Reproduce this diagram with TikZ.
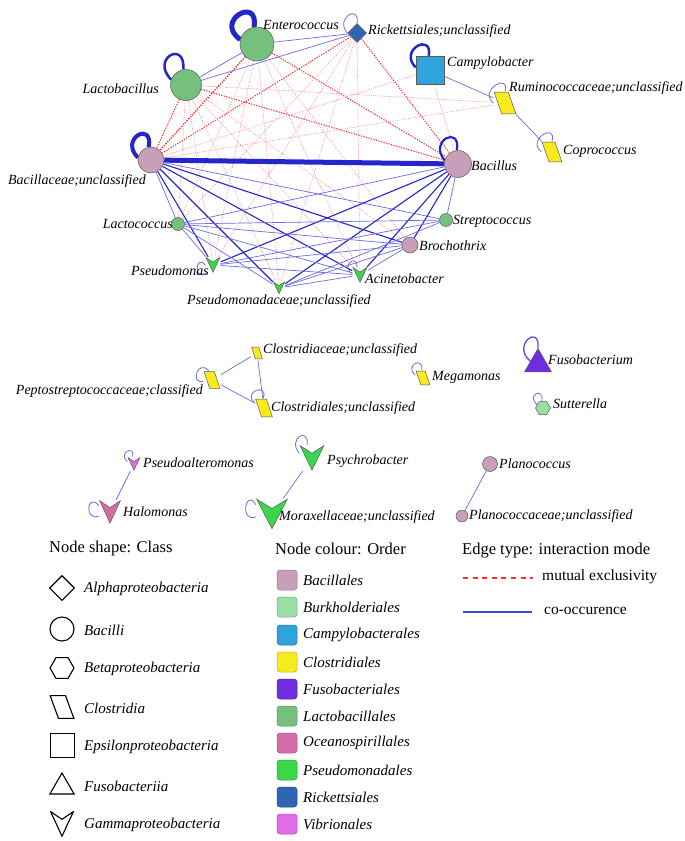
\documentclass[tikz,border=0pt]{standalone}
\usepackage{fontspec}
\setmainfont{Liberation Serif}
\usetikzlibrary{shapes.geometric, positioning, backgrounds, calc}
% node colour = order
\definecolor{ordBacillales}{HTML}{C89FB8}
\definecolor{ordBurkholderiales}{HTML}{9BDFA6}
\definecolor{ordCampylobacterales}{HTML}{2EA3DC}
\definecolor{ordClostridiales}{HTML}{F7EB1E}
\definecolor{ordFusobacteriales}{HTML}{6E2EE0}
\definecolor{ordLactobacillales}{HTML}{76C07E}
\definecolor{ordOceanospirillales}{HTML}{D46DA5}
\definecolor{ordPseudomonadales}{HTML}{3AD64C}
\definecolor{ordRickettsiales}{HTML}{2E66B2}
\definecolor{ordVibrionales}{HTML}{E06CE8}
% edge colours
\definecolor{coBlue}{HTML}{2525CC}
\definecolor{coLight}{HTML}{6C6CE6}
\definecolor{mxRed}{HTML}{FF2A2A}
\definecolor{mxPink}{HTML}{FF8C8C}
\definecolor{rim}{HTML}{5A5A5A}
\tikzset{
  taxon/.style={draw=rim, line width=0.5pt, inner sep=0pt, fill=#1},
  bacilli/.style={taxon=#1, circle},
  alphap/.style={taxon=#1, diamond},
  betap/.style={taxon=#1, regular polygon, regular polygon sides=6},
  epsilonp/.style={taxon=#1, rectangle},
  fusob/.style={taxon=#1, regular polygon, regular polygon sides=3},
  shaperim/.style={draw=rim, line width=0.5pt},
  clostr/.style={rectangle, inner sep=0pt, path picture={
    \draw[shaperim, fill=#1, line join=miter]
      ($(path picture bounding box.north west)+(0.6pt,-0.6pt)$)
      -- ($(path picture bounding box.north west)!0.64!(path picture bounding box.north east)+(0pt,-0.6pt)$)
      -- ($(path picture bounding box.south east)+(-0.6pt,0.6pt)$)
      -- ($(path picture bounding box.south east)!0.64!(path picture bounding box.south west)+(0pt,0.6pt)$) -- cycle;}},
  gammap/.style={rectangle, inner sep=0pt, path picture={
    \draw[shaperim, fill=#1, line join=miter]
      ($(path picture bounding box.north west)+(0.6pt,-0.6pt)$)
      -- ($(path picture bounding box.north)!0.32!(path picture bounding box.south)$)
      -- ($(path picture bounding box.north east)+(-0.6pt,-0.6pt)$)
      -- ($(path picture bounding box.south)+(0pt,0.8pt)$) -- cycle;}},
  taxlab/.style={font=\fontsize{14}{16}\selectfont\itshape, inner sep=0pt},
  keyhead/.style={font=\fontsize{16.5}{18}\selectfont, inner sep=0pt, anchor=west},
  keylab/.style={font=\fontsize{15}{17}\selectfont\itshape, inner sep=0pt, anchor=west},
  keyedge/.style={font=\fontsize{15.5}{17}\selectfont, inner sep=0pt, anchor=west},
  keyshape/.style={draw=black, line width=1.1pt, fill=none},
  keyrim/.style={shaperim/.style={draw=black, line width=1.1pt}},
  swatch/.style={draw=#1!75!black, fill=#1, rounded corners=3pt, minimum size=20pt, inner sep=0pt, line width=0.5pt},
  coedge/.style={draw=coBlue, line width=1.1pt},
  coedgeL/.style={draw=coLight, line width=0.7pt},
  mxedge/.style={draw=mxRed, line width=1pt, dash pattern=on 1.3pt off 1.3pt},
  mxedgeL/.style={draw=mxPink, line width=0.6pt, dash pattern=on 1pt off 1.3pt},
  selfloop/.style={draw=coLight, line width=0.8pt},
}

\begin{document}
\begin{tikzpicture}[x=1pt, y=-1pt]
\useasboundingbox (0,0) rectangle (685,841);

% main network
\node[bacilli=ordLactobacillales, minimum size=34pt] (ent) at (257,44) {};
\node[bacilli=ordLactobacillales, minimum size=31pt] (lac) at (186,85) {};
\node[bacilli=ordBacillales, minimum size=26pt] (bacu) at (151,160) {};
\node[alphap=ordRickettsiales, minimum width=19pt, minimum height=19pt] (ric) at (357,33) {};
\node[epsilonp=ordCampylobacterales, minimum size=28pt] (cam) at (430,70) {};
\node[clostr=ordClostridiales, minimum width=23pt, minimum height=23pt] (rum) at (505,103) {};
\node[clostr=ordClostridiales, minimum width=21pt, minimum height=21pt] (cop) at (552,152) {};
\node[bacilli=ordBacillales, minimum size=27pt] (bac) at (458,164) {};
\node[bacilli=ordLactobacillales, minimum size=13pt] (lcc) at (178,224) {};
\node[bacilli=ordLactobacillales, minimum size=13pt] (str) at (446,220) {};
\node[bacilli=ordBacillales, minimum size=16pt] (bro) at (410,245) {};
\node[gammap=ordPseudomonadales, minimum width=15pt, minimum height=16pt] (psm) at (213,265) {};
\node[gammap=ordPseudomonadales, minimum width=12pt, minimum height=13pt] (psu) at (279,288) {};
\node[gammap=ordPseudomonadales, minimum width=15pt, minimum height=16pt] (aci) at (360,275) {};

\node[taxlab, anchor=west] (entL) at (263,25) {Enterococcus};
\node[taxlab, anchor=east] (lacL) at (159,89) {Lactobacillus};
\node[taxlab, anchor=east] (bacuL) at (146,181) {Bacillaceae;unclassified};
\node[taxlab, anchor=west] (ricL) at (368,31) {Rickettsiales;unclassified};
\node[taxlab, anchor=west] (camL) at (447,63) {Campylobacter};
\node[taxlab, anchor=west] (rumL) at (509,88) {Ruminococcaceae;unclassified};
\node[taxlab, anchor=west] (copL) at (563,151) {Coprococcus};
\node[taxlab, anchor=west] (bacL) at (471,166) {Bacillus};
\node[taxlab, anchor=east] (lccL) at (173,224) {Lactococcus};
\node[taxlab, anchor=west] (strL) at (453,221) {Streptococcus};
\node[taxlab, anchor=west] (broL) at (419,246) {Brochothrix};
\node[taxlab, anchor=east] (psmL) at (209,271) {Pseudomonas};
\node[taxlab, anchor=west] (psuL) at (187,301) {Pseudomonadaceae;unclassified};
\node[taxlab, anchor=west] (aciL) at (365,279) {Acinetobacter};

% small components
\node[clostr=ordClostridiales, minimum width=12pt, minimum height=13pt] (cdc) at (257,353) {};
\node[clostr=ordClostridiales, minimum width=17pt, minimum height=18pt] (pept) at (212,380) {};
\node[clostr=ordClostridiales, minimum width=18pt, minimum height=19pt] (cls) at (264,408) {};
\node[clostr=ordClostridiales, minimum width=15pt, minimum height=15pt] (meg) at (423,378) {};
\node[fusob=ordFusobacteriales, minimum size=31pt] (fuso) at (538,364) {};
\node[betap=ordBurkholderiales, minimum size=15pt] (sut) at (543,408) {};
\node[gammap=ordVibrionales, minimum width=13pt, minimum height=14pt] (pal) at (134,464) {};
\node[gammap=ordOceanospirillales, minimum width=22pt, minimum height=24pt] (hal) at (110,512) {};
\node[gammap=ordPseudomonadales, minimum width=25pt, minimum height=26pt] (psy) at (312,458) {};
\node[gammap=ordPseudomonadales, minimum width=32pt, minimum height=31pt] (mor) at (272,514) {};
\node[bacilli=ordBacillales, minimum size=15pt] (pla) at (490,464) {};
\node[bacilli=ordBacillales, minimum size=12pt] (plu) at (462,516) {};

\node[taxlab, anchor=west] (cdcL) at (263,350) {Clostridiaceae;unclassified};
\node[taxlab, anchor=east] (peptL) at (203,391) {Peptostreptococcaceae;classified};
\node[taxlab, anchor=west] (clsL) at (271,408) {Clostridiales;unclassified};
\node[taxlab, anchor=west] (megL) at (432,377) {Megamonas};
\node[taxlab, anchor=west] (fusoL) at (548,360) {Fusobacterium};
\node[taxlab, anchor=west] (sutL) at (553,404) {Sutterella};
\node[taxlab, anchor=west] (palL) at (143,463) {Pseudoalteromonas};
\node[taxlab, anchor=west] (halL) at (123,512) {Halomonas};
\node[taxlab, anchor=west] (psyL) at (327,461) {Psychrobacter};
\node[taxlab, anchor=west] (morL) at (279,517) {Moraxellaceae;unclassified};
\node[taxlab, anchor=west] (plaL) at (499,464) {Planococcus};
\node[taxlab, anchor=west] (pluL) at (469,516) {Planococcaceae;unclassified};

\begin{scope}[on background layer]
\fill[white] (0,0) rectangle (685,841);
% mutual exclusivity
\draw[mxedge, line width=1.4pt] (ent) -- (bacu);
\draw[mxedge] (lac) -- (bacu);
\draw[mxedge] (ric) -- (bacu);
\draw[mxedge] (ent) -- (bac);
\draw[mxedge] (ric) -- (bac);
\draw[mxedge] (lac) -- (bac);
\draw[mxedgeL] (cam) -- (bacu);
\draw[mxedgeL] (cam) -- (bac);
\draw[mxedgeL] (rum) -- (bacu);
\draw[mxedgeL] (rum) -- (lac);
\draw[mxedgeL] (lac) -- (lcc);
\draw[mxedgeL] (lac) -- (psm);
\draw[mxedgeL] (lac) -- (psu);
\draw[mxedgeL] (lac) -- (aci);
\draw[mxedgeL] (lac) -- (bro);
\draw[mxedgeL] (ent) -- (lcc);
\draw[mxedgeL] (ent) -- (psm);
\draw[mxedgeL] (ent) -- (psu);
\draw[mxedgeL] (ent) -- (aci);
\draw[mxedgeL] (ent) -- (bro);
\draw[mxedgeL] (ric) -- (lcc);
\draw[mxedgeL] (ric) -- (psu);
\draw[mxedgeL] (ric) -- (psm);
\draw[mxedgeL] (ric) -- (aci);
% co-occurence
\draw[coedge, line width=5pt] (bacu) -- (bac);
\draw[coedgeL] (ent) -- (ric);
\draw[coedgeL] (lac) -- (ric);
\draw[coedgeL] (lac) -- (ent);
\draw[coedgeL] (cam) -- (rum);
\draw[coedgeL] (rum) -- (cop);
\draw[coedge] (bacu) -- (psm);
\draw[coedge] (bacu) -- (psu);
\draw[coedge] (bacu) -- (aci);
\draw[coedge] (bacu) -- (bro);
\draw[coedgeL] (bacu) -- (str);
\draw[coedgeL] (bacu) -- (lcc);
\draw[coedge] (bac) -- (psm);
\draw[coedge] (bac) -- (psu);
\draw[coedge] (bac) -- (aci);
\draw[coedge] (bac) -- (bro);
\draw[coedgeL] (bac) -- (lcc);
\draw[coedgeL] (bac) -- (str);
\draw[coedgeL] (lcc) -- (str);
\draw[coedgeL] (lcc) -- (bro);
\draw[coedgeL] (lcc) -- (aci);
\draw[coedgeL] (lcc) -- (psu);
\draw[coedgeL] (lcc) -- (psm);
\draw[coedgeL] (psm) -- (bro);
\draw[coedgeL] (psm) -- (aci);
\draw[coedgeL] (psm) -- (str);
\draw[coedgeL] (psu) -- (bro);
\draw[coedgeL] (psu) -- (aci);
\draw[coedgeL] (psu) -- (str);
\draw[coedgeL] (aci) -- (bro);
\draw[coedgeL] (cdc) -- (pept);
\draw[coedgeL] (cdc) -- (cls);
\draw[coedgeL] (pept) -- (cls);
\draw[coedgeL] (pal) -- (hal);
\draw[coedgeL] (psy) -- (mor);
\draw[coedgeL] (pla) -- (plu);
% self loops
\draw[selfloop, draw=coBlue, line width=5pt] (ent.165) .. controls +(145:33pt) and +(80:32pt) .. (ent.100);
\draw[selfloop, draw=coBlue, line width=2.5pt] (lac.160) .. controls +(135:30pt) and +(85:30pt) .. (lac.100);
\draw[selfloop, draw=coBlue, line width=4pt] (bacu.170) .. controls +(135:27pt) and +(80:27pt) .. (bacu.100);
\draw[selfloop] (ric.west) .. controls +(130:20pt) and +(80:20pt) .. (ric.north);
\draw[selfloop, draw=coBlue, line width=2.5pt] (cam.170) .. controls +(135:25pt) and +(80:24pt) .. (cam.95);
\draw[selfloop] (rum.west) .. controls +(140:20pt) and +(75:20pt) .. (rum.north);
\draw[selfloop] (cop.west) .. controls +(140:20pt) and +(75:20pt) .. (cop.north);
\draw[selfloop, draw=coBlue, line width=2.2pt] (bac.165) .. controls +(130:26pt) and +(80:26pt) .. (bac.95);
\draw[selfloop] (psm.180) .. controls +(130:15pt) and +(210:15pt) .. (psm.230);
\draw[selfloop] (aci.170) .. controls +(150:14pt) and +(90:14pt) .. (aci.110);
\draw[selfloop] (pept.110) .. controls +(130:16pt) and +(190:14pt) .. (pept.190);
\draw[selfloop] (cls.150) .. controls +(140:17pt) and +(70:17pt) .. (cls.95);
\draw[selfloop] (meg.160) .. controls +(140:15pt) and +(80:15pt) .. (meg.100);
\draw[selfloop, draw=coBlue!80, line width=1.3pt] (fuso.160) .. controls +(140:25pt) and +(85:25pt) .. (fuso.north);
\draw[selfloop] (sut.150) .. controls +(140:15pt) and +(80:15pt) .. (sut.100);
\draw[selfloop] (pal.160) .. controls +(140:13pt) and +(80:13pt) .. (pal.100);
\draw[selfloop] (hal.150) .. controls +(130:18pt) and +(200:16pt) .. (hal.200);
\draw[selfloop] (psy.160) .. controls +(130:19pt) and +(85:19pt) .. (psy.110);
\draw[selfloop] (mor.150) .. controls +(120:20pt) and +(200:18pt) .. (mor.190);
\end{scope}

% legend: node shape
\node[keyhead] (shapeHd) at (49,549) {Node shape: Class};
\node[alphap=white, keyshape, minimum width=25pt, minimum height=25pt] (kAlpha) at (62,588) {};
\node[bacilli=white, keyshape, minimum size=24pt] (kBacilli) at (62,629) {};
\node[betap=white, keyshape, minimum size=24pt] (kBeta) at (62,668) {};
\node[clostr=none, keyrim, minimum width=25pt, minimum height=24pt] (kClos) at (62,707) {};
\node[epsilonp=white, keyshape, line width=0.9pt, minimum size=24pt] (kEps) at (62,745) {};
\node[fusob=white, keyshape, minimum size=28pt] (kFuso) at (62,787) {};
\node[gammap=none, keyrim, minimum width=24pt, minimum height=26pt] (kGam) at (62,824) {};
\node[keylab] (kAlphaL) at (84,589) {Alphaproteobacteria};
\node[keylab] (kBacilliL) at (84,630) {Bacilli};
\node[keylab] (kBetaL) at (84,669) {Betaproteobacteria};
\node[keylab] (kClosL) at (84,708) {Clostridia};
\node[keylab] (kEpsL) at (84,747) {Epsilonproteobacteria};
\node[keylab] (kFusoL) at (84,786) {Fusobacteriia};
\node[keylab] (kGamL) at (84,825) {Gammaproteobacteria};

% legend: node colour
\node[keyhead] (colourHd) at (275,549) {Node colour: Order};
\node[swatch=ordBacillales] (sw1) at (287,580) {};
\node[swatch=ordBurkholderiales] (sw2) at (287,607) {};
\node[swatch=ordCampylobacterales] (sw3) at (287,635) {};
\node[swatch=ordClostridiales] (sw4) at (287,662) {};
\node[swatch=ordFusobacteriales] (sw5) at (287,689) {};
\node[swatch=ordLactobacillales] (sw6) at (287,716) {};
\node[swatch=ordOceanospirillales] (sw7) at (287,743) {};
\node[swatch=ordPseudomonadales] (sw8) at (287,770) {};
\node[swatch=ordRickettsiales] (sw9) at (287,797) {};
\node[swatch=ordVibrionales] (sw10) at (287,824) {};
\node[keylab] (sw1L) at (303,580) {Bacillales};
\node[keylab] (sw2L) at (303,607) {Burkholderiales};
\node[keylab] (sw3L) at (303,635) {Campylobacterales};
\node[keylab] (sw4L) at (303,662) {Clostridiales};
\node[keylab] (sw5L) at (303,689) {Fusobacteriales};
\node[keylab] (sw6L) at (303,716) {Lactobacillales};
\node[keylab] (sw7L) at (303,743) {Oceanospirillales};
\node[keylab] (sw8L) at (303,770) {Pseudomonadales};
\node[keylab] (sw9L) at (303,797) {Rickettsiales};
\node[keylab] (sw10L) at (303,824) {Vibrionales};

% legend: edge type
\node[keyhead] (edgeHd) at (462,551) {Edge type: interaction mode};
\coordinate (mxA) at (463,578);
\coordinate (mxB) at (533,578);
\coordinate (coA) at (463,612);
\coordinate (coB) at (532,612);
\draw[draw=mxRed, line width=2.2pt, dash pattern=on 5pt off 4.6pt] (mxA) -- (mxB);
\draw[draw=coBlue!85, line width=1.6pt] (coA) -- (coB);
\node[keyedge] (mxL) at (542,577) {mutual exclusivity};
\node[keyedge] (coL) at (544,611) {co-occurence};

\end{tikzpicture}
\end{document}
